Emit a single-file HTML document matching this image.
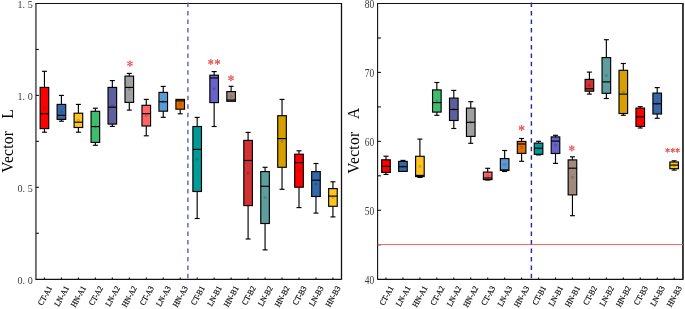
<!DOCTYPE html>
<html><head><meta charset="utf-8"><style>
html,body{margin:0;padding:0;background:#fff;}
body{width:685px;height:309px;overflow:hidden;}
svg{display:block;will-change:transform;}
text{font-family:"Liberation Serif",serif;}
</style></head><body>
<svg width="685" height="309" viewBox="0 0 685 309">
<rect width="685" height="309" fill="#fff"/>
<line x1="35.9" y1="3.0" x2="35.9" y2="279.8" stroke="#6e6e6e" stroke-width="1.9"/>
<line x1="377.6" y1="3.0" x2="377.6" y2="279.8" stroke="#111" stroke-width="1.1"/>
<line x1="35.60" y1="3.5" x2="341.50" y2="3.5" stroke="#111" stroke-width="1"/>
<line x1="341.50" y1="3.0" x2="341.50" y2="279.8" stroke="#111" stroke-width="1.3"/>
<line x1="35.60" y1="279.4" x2="341.50" y2="279.4" stroke="#111" stroke-width="1.15"/>
<line x1="44.45" y1="279" x2="44.45" y2="277.4" stroke="#111" stroke-width="1.1"/>
<line x1="61.42" y1="279" x2="61.42" y2="277.4" stroke="#111" stroke-width="1.1"/>
<line x1="78.39" y1="279" x2="78.39" y2="277.4" stroke="#111" stroke-width="1.1"/>
<line x1="95.36" y1="279" x2="95.36" y2="277.4" stroke="#111" stroke-width="1.1"/>
<line x1="112.33" y1="279" x2="112.33" y2="277.4" stroke="#111" stroke-width="1.1"/>
<line x1="129.30" y1="279" x2="129.30" y2="277.4" stroke="#111" stroke-width="1.1"/>
<line x1="146.27" y1="279" x2="146.27" y2="277.4" stroke="#111" stroke-width="1.1"/>
<line x1="163.24" y1="279" x2="163.24" y2="277.4" stroke="#111" stroke-width="1.1"/>
<line x1="180.21" y1="279" x2="180.21" y2="277.4" stroke="#111" stroke-width="1.1"/>
<line x1="197.18" y1="279" x2="197.18" y2="277.4" stroke="#111" stroke-width="1.1"/>
<line x1="214.15" y1="279" x2="214.15" y2="277.4" stroke="#111" stroke-width="1.1"/>
<line x1="231.12" y1="279" x2="231.12" y2="277.4" stroke="#111" stroke-width="1.1"/>
<line x1="248.09" y1="279" x2="248.09" y2="277.4" stroke="#111" stroke-width="1.1"/>
<line x1="265.06" y1="279" x2="265.06" y2="277.4" stroke="#111" stroke-width="1.1"/>
<line x1="282.03" y1="279" x2="282.03" y2="277.4" stroke="#111" stroke-width="1.1"/>
<line x1="299.00" y1="279" x2="299.00" y2="277.4" stroke="#111" stroke-width="1.1"/>
<line x1="315.97" y1="279" x2="315.97" y2="277.4" stroke="#111" stroke-width="1.1"/>
<line x1="332.94" y1="279" x2="332.94" y2="277.4" stroke="#111" stroke-width="1.1"/>
<line x1="36.00" y1="233.25" x2="38.90" y2="233.25" stroke="#111" stroke-width="1.1"/>
<line x1="36.00" y1="187.30" x2="38.90" y2="187.30" stroke="#111" stroke-width="1.1"/>
<line x1="36.00" y1="141.35" x2="38.90" y2="141.35" stroke="#111" stroke-width="1.1"/>
<line x1="36.00" y1="95.40" x2="38.90" y2="95.40" stroke="#111" stroke-width="1.1"/>
<line x1="36.00" y1="49.45" x2="38.90" y2="49.45" stroke="#111" stroke-width="1.1"/>
<line x1="187.90" y1="2.5" x2="187.90" y2="279.20" stroke="#6464BC" stroke-width="1.45" stroke-dasharray="4.5 3.98"/>
<g stroke="#000" stroke-width="1.15" fill="none">
<line x1="44.45" y1="71.30" x2="44.45" y2="87.40"/>
<line x1="41.95" y1="71.30" x2="46.95" y2="71.30"/>
<line x1="44.45" y1="128.60" x2="44.45" y2="132.20"/>
<line x1="41.95" y1="132.20" x2="46.95" y2="132.20"/>
<rect x="40.15" y="87.40" width="8.60" height="41.20" fill="#FF0000"/>
<line x1="40.15" y1="113.70" x2="48.75" y2="113.70"/>
<circle cx="44.45" cy="108.00" r="1.1" fill="none" stroke="rgba(0,0,0,0.3)" stroke-width="0.6"/>
<line x1="61.42" y1="95.40" x2="61.42" y2="104.40"/>
<line x1="58.92" y1="95.40" x2="63.92" y2="95.40"/>
<line x1="61.42" y1="119.40" x2="61.42" y2="121.20"/>
<line x1="58.92" y1="121.20" x2="63.92" y2="121.20"/>
<rect x="57.12" y="104.40" width="8.60" height="15.00" fill="#3468A8"/>
<line x1="57.12" y1="115.30" x2="65.72" y2="115.30"/>
<circle cx="61.42" cy="111.90" r="1.1" fill="none" stroke="rgba(0,0,0,0.3)" stroke-width="0.6"/>
<line x1="78.39" y1="104.40" x2="78.39" y2="113.20"/>
<line x1="75.89" y1="104.40" x2="80.89" y2="104.40"/>
<line x1="78.39" y1="127.50" x2="78.39" y2="132.20"/>
<line x1="75.89" y1="132.20" x2="80.89" y2="132.20"/>
<rect x="74.09" y="113.20" width="8.60" height="14.30" fill="#FFC41E"/>
<line x1="74.09" y1="122.20" x2="82.69" y2="122.20"/>
<circle cx="78.39" cy="120.35" r="1.1" fill="none" stroke="rgba(0,0,0,0.3)" stroke-width="0.6"/>
<line x1="95.36" y1="108.20" x2="95.36" y2="111.30"/>
<line x1="92.86" y1="108.20" x2="97.86" y2="108.20"/>
<line x1="95.36" y1="142.40" x2="95.36" y2="145.30"/>
<line x1="92.86" y1="145.30" x2="97.86" y2="145.30"/>
<rect x="91.06" y="111.30" width="8.60" height="31.10" fill="#3CBE6E"/>
<line x1="91.06" y1="126.60" x2="99.66" y2="126.60"/>
<circle cx="95.36" cy="126.85" r="1.1" fill="none" stroke="rgba(0,0,0,0.3)" stroke-width="0.6"/>
<line x1="112.33" y1="80.60" x2="112.33" y2="87.40"/>
<line x1="109.83" y1="80.60" x2="114.83" y2="80.60"/>
<line x1="112.33" y1="124.10" x2="112.33" y2="126.40"/>
<line x1="109.83" y1="126.40" x2="114.83" y2="126.40"/>
<rect x="108.03" y="87.40" width="8.60" height="36.70" fill="#5F5F9E"/>
<line x1="108.03" y1="107.20" x2="116.63" y2="107.20"/>
<circle cx="112.33" cy="105.75" r="1.1" fill="none" stroke="rgba(0,0,0,0.3)" stroke-width="0.6"/>
<line x1="129.30" y1="73.40" x2="129.30" y2="76.10"/>
<line x1="126.80" y1="73.40" x2="131.80" y2="73.40"/>
<line x1="129.30" y1="102.40" x2="129.30" y2="110.10"/>
<line x1="126.80" y1="110.10" x2="131.80" y2="110.10"/>
<rect x="125.00" y="76.10" width="8.60" height="26.30" fill="#A0A0A0"/>
<line x1="125.00" y1="87.40" x2="133.60" y2="87.40"/>
<circle cx="129.30" cy="89.25" r="1.1" fill="none" stroke="rgba(0,0,0,0.3)" stroke-width="0.6"/>
<line x1="146.27" y1="99.40" x2="146.27" y2="105.30"/>
<line x1="143.77" y1="99.40" x2="148.77" y2="99.40"/>
<line x1="146.27" y1="126.00" x2="146.27" y2="135.80"/>
<line x1="143.77" y1="135.80" x2="148.77" y2="135.80"/>
<rect x="141.97" y="105.30" width="8.60" height="20.70" fill="#FF6666"/>
<line x1="141.97" y1="113.70" x2="150.57" y2="113.70"/>
<circle cx="146.27" cy="115.65" r="1.1" fill="none" stroke="rgba(0,0,0,0.3)" stroke-width="0.6"/>
<line x1="163.24" y1="86.40" x2="163.24" y2="92.40"/>
<line x1="160.74" y1="86.40" x2="165.74" y2="86.40"/>
<line x1="163.24" y1="111.20" x2="163.24" y2="117.30"/>
<line x1="160.74" y1="117.30" x2="165.74" y2="117.30"/>
<rect x="158.94" y="92.40" width="8.60" height="18.80" fill="#5B9BD5"/>
<line x1="158.94" y1="101.80" x2="167.54" y2="101.80"/>
<circle cx="163.24" cy="101.80" r="1.1" fill="none" stroke="rgba(0,0,0,0.3)" stroke-width="0.6"/>
<line x1="180.21" y1="109.20" x2="180.21" y2="113.80"/>
<line x1="177.71" y1="113.80" x2="182.71" y2="113.80"/>
<rect x="175.91" y="99.40" width="8.60" height="9.80" fill="#DD6E00"/>
<line x1="175.91" y1="100.90" x2="184.51" y2="100.90"/>
<circle cx="180.21" cy="104.30" r="1.1" fill="none" stroke="rgba(0,0,0,0.3)" stroke-width="0.6"/>
<line x1="197.18" y1="117.40" x2="197.18" y2="126.50"/>
<line x1="194.68" y1="117.40" x2="199.68" y2="117.40"/>
<line x1="197.18" y1="191.50" x2="197.18" y2="218.50"/>
<line x1="194.68" y1="218.50" x2="199.68" y2="218.50"/>
<rect x="192.88" y="126.50" width="8.60" height="65.00" fill="#009A98"/>
<line x1="192.88" y1="149.40" x2="201.48" y2="149.40"/>
<circle cx="197.18" cy="159.00" r="1.1" fill="none" stroke="rgba(0,0,0,0.3)" stroke-width="0.6"/>
<line x1="214.15" y1="71.60" x2="214.15" y2="75.20"/>
<line x1="211.65" y1="71.60" x2="216.65" y2="71.60"/>
<line x1="214.15" y1="102.60" x2="214.15" y2="126.50"/>
<line x1="211.65" y1="126.50" x2="216.65" y2="126.50"/>
<rect x="209.85" y="75.20" width="8.60" height="27.40" fill="#6A62C8"/>
<line x1="209.85" y1="78.00" x2="218.45" y2="78.00"/>
<circle cx="214.15" cy="88.90" r="1.1" fill="none" stroke="rgba(0,0,0,0.3)" stroke-width="0.6"/>
<line x1="231.12" y1="86.30" x2="231.12" y2="91.60"/>
<line x1="228.62" y1="86.30" x2="233.62" y2="86.30"/>
<rect x="226.82" y="91.60" width="8.60" height="9.70" fill="#A08A7E"/>
<line x1="226.82" y1="100.00" x2="235.42" y2="100.00"/>
<circle cx="231.12" cy="96.45" r="1.1" fill="none" stroke="rgba(0,0,0,0.3)" stroke-width="0.6"/>
<line x1="248.09" y1="132.40" x2="248.09" y2="140.40"/>
<line x1="245.59" y1="132.40" x2="250.59" y2="132.40"/>
<line x1="248.09" y1="205.60" x2="248.09" y2="239.00"/>
<line x1="245.59" y1="239.00" x2="250.59" y2="239.00"/>
<rect x="243.79" y="140.40" width="8.60" height="65.20" fill="#D23232"/>
<line x1="243.79" y1="160.50" x2="252.39" y2="160.50"/>
<circle cx="248.09" cy="173.00" r="1.1" fill="none" stroke="rgba(0,0,0,0.3)" stroke-width="0.6"/>
<line x1="265.06" y1="167.30" x2="265.06" y2="171.60"/>
<line x1="262.56" y1="167.30" x2="267.56" y2="167.30"/>
<line x1="265.06" y1="223.50" x2="265.06" y2="249.90"/>
<line x1="262.56" y1="249.90" x2="267.56" y2="249.90"/>
<rect x="260.76" y="171.60" width="8.60" height="51.90" fill="#5F9E9E"/>
<line x1="260.76" y1="186.30" x2="269.36" y2="186.30"/>
<circle cx="265.06" cy="197.55" r="1.1" fill="none" stroke="rgba(0,0,0,0.3)" stroke-width="0.6"/>
<line x1="282.03" y1="99.40" x2="282.03" y2="115.70"/>
<line x1="279.53" y1="99.40" x2="284.53" y2="99.40"/>
<line x1="282.03" y1="167.30" x2="282.03" y2="189.30"/>
<line x1="279.53" y1="189.30" x2="284.53" y2="189.30"/>
<rect x="277.73" y="115.70" width="8.60" height="51.60" fill="#D6A000"/>
<line x1="277.73" y1="138.60" x2="286.33" y2="138.60"/>
<circle cx="282.03" cy="141.50" r="1.1" fill="none" stroke="rgba(0,0,0,0.3)" stroke-width="0.6"/>
<line x1="299.00" y1="150.80" x2="299.00" y2="154.20"/>
<line x1="296.50" y1="150.80" x2="301.50" y2="150.80"/>
<line x1="299.00" y1="187.20" x2="299.00" y2="207.60"/>
<line x1="296.50" y1="207.60" x2="301.50" y2="207.60"/>
<rect x="294.70" y="154.20" width="8.60" height="33.00" fill="#FF0000"/>
<line x1="294.70" y1="162.60" x2="303.30" y2="162.60"/>
<circle cx="299.00" cy="170.70" r="1.1" fill="none" stroke="rgba(0,0,0,0.3)" stroke-width="0.6"/>
<line x1="315.97" y1="163.50" x2="315.97" y2="171.60"/>
<line x1="313.47" y1="163.50" x2="318.47" y2="163.50"/>
<line x1="315.97" y1="196.50" x2="315.97" y2="213.10"/>
<line x1="313.47" y1="213.10" x2="318.47" y2="213.10"/>
<rect x="311.67" y="171.60" width="8.60" height="24.90" fill="#3468A8"/>
<line x1="311.67" y1="180.20" x2="320.27" y2="180.20"/>
<circle cx="315.97" cy="184.05" r="1.1" fill="none" stroke="rgba(0,0,0,0.3)" stroke-width="0.6"/>
<line x1="332.94" y1="181.80" x2="332.94" y2="188.60"/>
<line x1="330.44" y1="181.80" x2="335.44" y2="181.80"/>
<line x1="332.94" y1="206.30" x2="332.94" y2="216.90"/>
<line x1="330.44" y1="216.90" x2="335.44" y2="216.90"/>
<rect x="328.64" y="188.60" width="8.60" height="17.70" fill="#FFC41E"/>
<line x1="328.64" y1="196.10" x2="337.24" y2="196.10"/>
<circle cx="332.94" cy="197.45" r="1.1" fill="none" stroke="rgba(0,0,0,0.3)" stroke-width="0.6"/>
</g>
<g stroke="#E85858" stroke-width="0.95" stroke-linecap="round">
<line x1="130.00" y1="60.85" x2="130.00" y2="66.35"/>
<line x1="127.62" y1="62.23" x2="132.38" y2="64.97"/>
<line x1="132.38" y1="62.23" x2="127.62" y2="64.97"/>
<circle cx="130.00" cy="65.75" r="0.77" fill="#E85858" stroke="none"/>
<circle cx="131.86" cy="64.67" r="0.77" fill="#E85858" stroke="none"/>
<circle cx="128.14" cy="64.67" r="0.77" fill="#E85858" stroke="none"/>
<circle cx="130.00" cy="61.45" r="0.77" fill="#E85858" stroke="none"/>
<circle cx="128.14" cy="62.53" r="0.77" fill="#E85858" stroke="none"/>
<circle cx="131.86" cy="62.53" r="0.77" fill="#E85858" stroke="none"/>
<line x1="210.80" y1="59.50" x2="210.80" y2="64.50"/>
<line x1="208.63" y1="60.75" x2="212.97" y2="63.25"/>
<line x1="212.97" y1="60.75" x2="208.63" y2="63.25"/>
<circle cx="210.80" cy="63.95" r="0.70" fill="#E85858" stroke="none"/>
<circle cx="212.49" cy="62.98" r="0.70" fill="#E85858" stroke="none"/>
<circle cx="209.11" cy="62.98" r="0.70" fill="#E85858" stroke="none"/>
<circle cx="210.80" cy="60.05" r="0.70" fill="#E85858" stroke="none"/>
<circle cx="209.11" cy="61.02" r="0.70" fill="#E85858" stroke="none"/>
<circle cx="212.49" cy="61.02" r="0.70" fill="#E85858" stroke="none"/>
<line x1="217.50" y1="59.50" x2="217.50" y2="64.50"/>
<line x1="215.33" y1="60.75" x2="219.67" y2="63.25"/>
<line x1="219.67" y1="60.75" x2="215.33" y2="63.25"/>
<circle cx="217.50" cy="63.95" r="0.70" fill="#E85858" stroke="none"/>
<circle cx="219.19" cy="62.98" r="0.70" fill="#E85858" stroke="none"/>
<circle cx="215.81" cy="62.98" r="0.70" fill="#E85858" stroke="none"/>
<circle cx="217.50" cy="60.05" r="0.70" fill="#E85858" stroke="none"/>
<circle cx="215.81" cy="61.02" r="0.70" fill="#E85858" stroke="none"/>
<circle cx="219.19" cy="61.02" r="0.70" fill="#E85858" stroke="none"/>
<line x1="231.00" y1="75.45" x2="231.00" y2="80.95"/>
<line x1="228.62" y1="76.83" x2="233.38" y2="79.58"/>
<line x1="233.38" y1="76.83" x2="228.62" y2="79.58"/>
<circle cx="231.00" cy="80.34" r="0.77" fill="#E85858" stroke="none"/>
<circle cx="232.86" cy="79.27" r="0.77" fill="#E85858" stroke="none"/>
<circle cx="229.14" cy="79.27" r="0.77" fill="#E85858" stroke="none"/>
<circle cx="231.00" cy="76.06" r="0.77" fill="#E85858" stroke="none"/>
<circle cx="229.14" cy="77.13" r="0.77" fill="#E85858" stroke="none"/>
<circle cx="232.86" cy="77.13" r="0.77" fill="#E85858" stroke="none"/>
</g>
<line x1="377.60" y1="3.5" x2="682.95" y2="3.5" stroke="#111" stroke-width="1"/>
<line x1="682.95" y1="3.0" x2="682.95" y2="279.8" stroke="#2a2a2a" stroke-width="1.8"/>
<line x1="377.60" y1="279.4" x2="682.95" y2="279.4" stroke="#111" stroke-width="1.15"/>
<line x1="386.00" y1="279" x2="386.00" y2="277.4" stroke="#111" stroke-width="1.1"/>
<line x1="402.95" y1="279" x2="402.95" y2="277.4" stroke="#111" stroke-width="1.1"/>
<line x1="419.90" y1="279" x2="419.90" y2="277.4" stroke="#111" stroke-width="1.1"/>
<line x1="436.85" y1="279" x2="436.85" y2="277.4" stroke="#111" stroke-width="1.1"/>
<line x1="453.80" y1="279" x2="453.80" y2="277.4" stroke="#111" stroke-width="1.1"/>
<line x1="470.75" y1="279" x2="470.75" y2="277.4" stroke="#111" stroke-width="1.1"/>
<line x1="487.70" y1="279" x2="487.70" y2="277.4" stroke="#111" stroke-width="1.1"/>
<line x1="504.65" y1="279" x2="504.65" y2="277.4" stroke="#111" stroke-width="1.1"/>
<line x1="521.60" y1="279" x2="521.60" y2="277.4" stroke="#111" stroke-width="1.1"/>
<line x1="538.55" y1="279" x2="538.55" y2="277.4" stroke="#111" stroke-width="1.1"/>
<line x1="555.50" y1="279" x2="555.50" y2="277.4" stroke="#111" stroke-width="1.1"/>
<line x1="572.45" y1="279" x2="572.45" y2="277.4" stroke="#111" stroke-width="1.1"/>
<line x1="589.40" y1="279" x2="589.40" y2="277.4" stroke="#111" stroke-width="1.1"/>
<line x1="606.35" y1="279" x2="606.35" y2="277.4" stroke="#111" stroke-width="1.1"/>
<line x1="623.30" y1="279" x2="623.30" y2="277.4" stroke="#111" stroke-width="1.1"/>
<line x1="640.25" y1="279" x2="640.25" y2="277.4" stroke="#111" stroke-width="1.1"/>
<line x1="657.20" y1="279" x2="657.20" y2="277.4" stroke="#111" stroke-width="1.1"/>
<line x1="674.15" y1="279" x2="674.15" y2="277.4" stroke="#111" stroke-width="1.1"/>
<line x1="378.00" y1="244.74" x2="380.90" y2="244.74" stroke="#111" stroke-width="1.1"/>
<line x1="378.00" y1="210.27" x2="380.90" y2="210.27" stroke="#111" stroke-width="1.1"/>
<line x1="378.00" y1="175.81" x2="380.90" y2="175.81" stroke="#111" stroke-width="1.1"/>
<line x1="378.00" y1="141.35" x2="380.90" y2="141.35" stroke="#111" stroke-width="1.1"/>
<line x1="378.00" y1="106.89" x2="380.90" y2="106.89" stroke="#111" stroke-width="1.1"/>
<line x1="378.00" y1="72.42" x2="380.90" y2="72.42" stroke="#111" stroke-width="1.1"/>
<line x1="378.00" y1="37.96" x2="380.90" y2="37.96" stroke="#111" stroke-width="1.1"/>
<line x1="377.60" y1="244.60" x2="682.95" y2="244.60" stroke="#F06060" stroke-width="1"/>
<line x1="531.40" y1="2.5" x2="531.40" y2="279.20" stroke="#2A2AA2" stroke-width="1.45" stroke-dasharray="4.5 3.98"/>
<g stroke="#000" stroke-width="1.15" fill="none">
<line x1="386.00" y1="156.20" x2="386.00" y2="159.80"/>
<line x1="383.50" y1="156.20" x2="388.50" y2="156.20"/>
<line x1="386.00" y1="172.40" x2="386.00" y2="174.40"/>
<line x1="383.50" y1="174.40" x2="388.50" y2="174.40"/>
<rect x="381.70" y="159.80" width="8.60" height="12.60" fill="#FF0000"/>
<line x1="381.70" y1="166.40" x2="390.30" y2="166.40"/>
<circle cx="386.00" cy="166.10" r="1.1" fill="none" stroke="rgba(0,0,0,0.3)" stroke-width="0.6"/>
<line x1="402.95" y1="160.40" x2="402.95" y2="161.40"/>
<line x1="400.45" y1="160.40" x2="405.45" y2="160.40"/>
<rect x="398.65" y="161.40" width="8.60" height="10.00" fill="#3468A8"/>
<line x1="398.65" y1="166.70" x2="407.25" y2="166.70"/>
<circle cx="402.95" cy="166.40" r="1.1" fill="none" stroke="rgba(0,0,0,0.3)" stroke-width="0.6"/>
<line x1="419.90" y1="139.10" x2="419.90" y2="156.30"/>
<line x1="417.40" y1="139.10" x2="422.40" y2="139.10"/>
<line x1="419.90" y1="176.60" x2="419.90" y2="177.40"/>
<line x1="417.40" y1="177.40" x2="422.40" y2="177.40"/>
<rect x="415.60" y="156.30" width="8.60" height="20.30" fill="#FFC41E"/>
<line x1="415.60" y1="175.40" x2="424.20" y2="175.40"/>
<circle cx="419.90" cy="166.45" r="1.1" fill="none" stroke="rgba(0,0,0,0.3)" stroke-width="0.6"/>
<line x1="436.85" y1="82.50" x2="436.85" y2="89.90"/>
<line x1="434.35" y1="82.50" x2="439.35" y2="82.50"/>
<line x1="436.85" y1="112.10" x2="436.85" y2="115.30"/>
<line x1="434.35" y1="115.30" x2="439.35" y2="115.30"/>
<rect x="432.55" y="89.90" width="8.60" height="22.20" fill="#3CBE6E"/>
<line x1="432.55" y1="102.60" x2="441.15" y2="102.60"/>
<circle cx="436.85" cy="101.00" r="1.1" fill="none" stroke="rgba(0,0,0,0.3)" stroke-width="0.6"/>
<line x1="453.80" y1="90.40" x2="453.80" y2="98.10"/>
<line x1="451.30" y1="90.40" x2="456.30" y2="90.40"/>
<line x1="453.80" y1="120.50" x2="453.80" y2="128.50"/>
<line x1="451.30" y1="128.50" x2="456.30" y2="128.50"/>
<rect x="449.50" y="98.10" width="8.60" height="22.40" fill="#5F5F9E"/>
<line x1="449.50" y1="109.50" x2="458.10" y2="109.50"/>
<circle cx="453.80" cy="109.30" r="1.1" fill="none" stroke="rgba(0,0,0,0.3)" stroke-width="0.6"/>
<line x1="470.75" y1="101.70" x2="470.75" y2="108.10"/>
<line x1="468.25" y1="101.70" x2="473.25" y2="101.70"/>
<line x1="470.75" y1="136.40" x2="470.75" y2="143.30"/>
<line x1="468.25" y1="143.30" x2="473.25" y2="143.30"/>
<rect x="466.45" y="108.10" width="8.60" height="28.30" fill="#A0A0A0"/>
<line x1="466.45" y1="122.30" x2="475.05" y2="122.30"/>
<circle cx="470.75" cy="122.25" r="1.1" fill="none" stroke="rgba(0,0,0,0.3)" stroke-width="0.6"/>
<line x1="487.70" y1="168.30" x2="487.70" y2="172.10"/>
<line x1="485.20" y1="168.30" x2="490.20" y2="168.30"/>
<line x1="487.70" y1="179.60" x2="487.70" y2="180.00"/>
<line x1="485.20" y1="180.00" x2="490.20" y2="180.00"/>
<rect x="483.40" y="172.10" width="8.60" height="7.50" fill="#FF6666"/>
<line x1="483.40" y1="178.00" x2="492.00" y2="178.00"/>
<circle cx="487.70" cy="175.85" r="1.1" fill="none" stroke="rgba(0,0,0,0.3)" stroke-width="0.6"/>
<line x1="504.65" y1="150.50" x2="504.65" y2="158.60"/>
<line x1="502.15" y1="150.50" x2="507.15" y2="150.50"/>
<line x1="504.65" y1="170.40" x2="504.65" y2="171.50"/>
<line x1="502.15" y1="171.50" x2="507.15" y2="171.50"/>
<rect x="500.35" y="158.60" width="8.60" height="11.80" fill="#5B9BD5"/>
<line x1="500.35" y1="170.00" x2="508.95" y2="170.00"/>
<circle cx="504.65" cy="164.50" r="1.1" fill="none" stroke="rgba(0,0,0,0.3)" stroke-width="0.6"/>
<line x1="521.60" y1="138.50" x2="521.60" y2="141.40"/>
<line x1="519.10" y1="138.50" x2="524.10" y2="138.50"/>
<line x1="521.60" y1="153.40" x2="521.60" y2="161.30"/>
<line x1="519.10" y1="161.30" x2="524.10" y2="161.30"/>
<rect x="517.30" y="141.40" width="8.60" height="12.00" fill="#DD6E00"/>
<line x1="517.30" y1="144.00" x2="525.90" y2="144.00"/>
<circle cx="521.60" cy="147.40" r="1.1" fill="none" stroke="rgba(0,0,0,0.3)" stroke-width="0.6"/>
<line x1="538.55" y1="141.30" x2="538.55" y2="143.10"/>
<line x1="536.05" y1="141.30" x2="541.05" y2="141.30"/>
<line x1="538.55" y1="154.30" x2="538.55" y2="154.90"/>
<line x1="536.05" y1="154.90" x2="541.05" y2="154.90"/>
<rect x="534.25" y="143.10" width="8.60" height="11.20" fill="#009A98"/>
<line x1="534.25" y1="148.20" x2="542.85" y2="148.20"/>
<circle cx="538.55" cy="148.70" r="1.1" fill="none" stroke="rgba(0,0,0,0.3)" stroke-width="0.6"/>
<line x1="555.50" y1="135.30" x2="555.50" y2="136.90"/>
<line x1="553.00" y1="135.30" x2="558.00" y2="135.30"/>
<line x1="555.50" y1="153.50" x2="555.50" y2="163.40"/>
<line x1="553.00" y1="163.40" x2="558.00" y2="163.40"/>
<rect x="551.20" y="136.90" width="8.60" height="16.60" fill="#6A62C8"/>
<line x1="551.20" y1="141.10" x2="559.80" y2="141.10"/>
<circle cx="555.50" cy="145.20" r="1.1" fill="none" stroke="rgba(0,0,0,0.3)" stroke-width="0.6"/>
<line x1="572.45" y1="156.80" x2="572.45" y2="159.90"/>
<line x1="569.95" y1="156.80" x2="574.95" y2="156.80"/>
<line x1="572.45" y1="194.90" x2="572.45" y2="215.70"/>
<line x1="569.95" y1="215.70" x2="574.95" y2="215.70"/>
<rect x="568.15" y="159.90" width="8.60" height="35.00" fill="#A08A7E"/>
<line x1="568.15" y1="168.20" x2="576.75" y2="168.20"/>
<circle cx="572.45" cy="177.40" r="1.1" fill="none" stroke="rgba(0,0,0,0.3)" stroke-width="0.6"/>
<line x1="589.40" y1="72.10" x2="589.40" y2="79.40"/>
<line x1="586.90" y1="72.10" x2="591.90" y2="72.10"/>
<line x1="589.40" y1="91.20" x2="589.40" y2="94.10"/>
<line x1="586.90" y1="94.10" x2="591.90" y2="94.10"/>
<rect x="585.10" y="79.40" width="8.60" height="11.80" fill="#D23232"/>
<line x1="585.10" y1="88.70" x2="593.70" y2="88.70"/>
<circle cx="589.40" cy="85.30" r="1.1" fill="none" stroke="rgba(0,0,0,0.3)" stroke-width="0.6"/>
<line x1="606.35" y1="39.70" x2="606.35" y2="57.60"/>
<line x1="603.85" y1="39.70" x2="608.85" y2="39.70"/>
<line x1="606.35" y1="93.30" x2="606.35" y2="98.50"/>
<line x1="603.85" y1="98.50" x2="608.85" y2="98.50"/>
<rect x="602.05" y="57.60" width="8.60" height="35.70" fill="#5F9E9E"/>
<line x1="602.05" y1="81.90" x2="610.65" y2="81.90"/>
<circle cx="606.35" cy="75.45" r="1.1" fill="none" stroke="rgba(0,0,0,0.3)" stroke-width="0.6"/>
<line x1="623.30" y1="63.50" x2="623.30" y2="70.30"/>
<line x1="620.80" y1="63.50" x2="625.80" y2="63.50"/>
<line x1="623.30" y1="113.50" x2="623.30" y2="115.30"/>
<line x1="620.80" y1="115.30" x2="625.80" y2="115.30"/>
<rect x="619.00" y="70.30" width="8.60" height="43.20" fill="#D6A000"/>
<line x1="619.00" y1="94.10" x2="627.60" y2="94.10"/>
<circle cx="623.30" cy="91.90" r="1.1" fill="none" stroke="rgba(0,0,0,0.3)" stroke-width="0.6"/>
<line x1="640.25" y1="106.70" x2="640.25" y2="108.10"/>
<line x1="637.75" y1="106.70" x2="642.75" y2="106.70"/>
<line x1="640.25" y1="126.40" x2="640.25" y2="128.00"/>
<line x1="637.75" y1="128.00" x2="642.75" y2="128.00"/>
<rect x="635.95" y="108.10" width="8.60" height="18.30" fill="#FF0000"/>
<line x1="635.95" y1="116.70" x2="644.55" y2="116.70"/>
<circle cx="640.25" cy="117.25" r="1.1" fill="none" stroke="rgba(0,0,0,0.3)" stroke-width="0.6"/>
<line x1="657.20" y1="87.60" x2="657.20" y2="93.10"/>
<line x1="654.70" y1="87.60" x2="659.70" y2="87.60"/>
<line x1="657.20" y1="114.00" x2="657.20" y2="118.30"/>
<line x1="654.70" y1="118.30" x2="659.70" y2="118.30"/>
<rect x="652.90" y="93.10" width="8.60" height="20.90" fill="#3468A8"/>
<line x1="652.90" y1="103.80" x2="661.50" y2="103.80"/>
<circle cx="657.20" cy="103.55" r="1.1" fill="none" stroke="rgba(0,0,0,0.3)" stroke-width="0.6"/>
<line x1="674.15" y1="160.80" x2="674.15" y2="162.00"/>
<line x1="671.65" y1="160.80" x2="676.65" y2="160.80"/>
<line x1="674.15" y1="168.70" x2="674.15" y2="170.10"/>
<line x1="671.65" y1="170.10" x2="676.65" y2="170.10"/>
<rect x="669.85" y="162.00" width="8.60" height="6.70" fill="#FFC41E"/>
<line x1="669.85" y1="165.10" x2="678.45" y2="165.10"/>
<circle cx="674.15" cy="165.35" r="1.1" fill="none" stroke="rgba(0,0,0,0.3)" stroke-width="0.6"/>
</g>
<g stroke="#E85858" stroke-width="0.95" stroke-linecap="round">
<line x1="521.60" y1="125.25" x2="521.60" y2="130.75"/>
<line x1="519.22" y1="126.62" x2="523.98" y2="129.38"/>
<line x1="523.98" y1="126.62" x2="519.22" y2="129.38"/>
<circle cx="521.60" cy="130.15" r="0.77" fill="#E85858" stroke="none"/>
<circle cx="523.46" cy="129.07" r="0.77" fill="#E85858" stroke="none"/>
<circle cx="519.74" cy="129.07" r="0.77" fill="#E85858" stroke="none"/>
<circle cx="521.60" cy="125.86" r="0.77" fill="#E85858" stroke="none"/>
<circle cx="519.74" cy="126.93" r="0.77" fill="#E85858" stroke="none"/>
<circle cx="523.46" cy="126.93" r="0.77" fill="#E85858" stroke="none"/>
<line x1="571.80" y1="145.55" x2="571.80" y2="151.05"/>
<line x1="569.42" y1="146.93" x2="574.18" y2="149.68"/>
<line x1="574.18" y1="146.93" x2="569.42" y2="149.68"/>
<circle cx="571.80" cy="150.45" r="0.77" fill="#E85858" stroke="none"/>
<circle cx="573.66" cy="149.37" r="0.77" fill="#E85858" stroke="none"/>
<circle cx="569.94" cy="149.37" r="0.77" fill="#E85858" stroke="none"/>
<circle cx="571.80" cy="146.16" r="0.77" fill="#E85858" stroke="none"/>
<circle cx="569.94" cy="147.23" r="0.77" fill="#E85858" stroke="none"/>
<circle cx="573.66" cy="147.23" r="0.77" fill="#E85858" stroke="none"/>
<line x1="667.60" y1="148.30" x2="667.60" y2="152.30"/>
<line x1="665.87" y1="149.30" x2="669.33" y2="151.30"/>
<line x1="669.33" y1="149.30" x2="665.87" y2="151.30"/>
<circle cx="667.60" cy="151.86" r="0.56" fill="#E85858" stroke="none"/>
<circle cx="668.95" cy="151.08" r="0.56" fill="#E85858" stroke="none"/>
<circle cx="666.25" cy="151.08" r="0.56" fill="#E85858" stroke="none"/>
<circle cx="667.60" cy="148.74" r="0.56" fill="#E85858" stroke="none"/>
<circle cx="666.25" cy="149.52" r="0.56" fill="#E85858" stroke="none"/>
<circle cx="668.95" cy="149.52" r="0.56" fill="#E85858" stroke="none"/>
<line x1="672.70" y1="148.30" x2="672.70" y2="152.30"/>
<line x1="670.97" y1="149.30" x2="674.43" y2="151.30"/>
<line x1="674.43" y1="149.30" x2="670.97" y2="151.30"/>
<circle cx="672.70" cy="151.86" r="0.56" fill="#E85858" stroke="none"/>
<circle cx="674.05" cy="151.08" r="0.56" fill="#E85858" stroke="none"/>
<circle cx="671.35" cy="151.08" r="0.56" fill="#E85858" stroke="none"/>
<circle cx="672.70" cy="148.74" r="0.56" fill="#E85858" stroke="none"/>
<circle cx="671.35" cy="149.52" r="0.56" fill="#E85858" stroke="none"/>
<circle cx="674.05" cy="149.52" r="0.56" fill="#E85858" stroke="none"/>
<line x1="677.60" y1="148.30" x2="677.60" y2="152.30"/>
<line x1="675.87" y1="149.30" x2="679.33" y2="151.30"/>
<line x1="679.33" y1="149.30" x2="675.87" y2="151.30"/>
<circle cx="677.60" cy="151.86" r="0.56" fill="#E85858" stroke="none"/>
<circle cx="678.95" cy="151.08" r="0.56" fill="#E85858" stroke="none"/>
<circle cx="676.25" cy="151.08" r="0.56" fill="#E85858" stroke="none"/>
<circle cx="677.60" cy="148.74" r="0.56" fill="#E85858" stroke="none"/>
<circle cx="676.25" cy="149.52" r="0.56" fill="#E85858" stroke="none"/>
<circle cx="678.95" cy="149.52" r="0.56" fill="#E85858" stroke="none"/>
</g>
<g font-size="10.5" fill="#3a3a3a" text-anchor="end">
<text font-size="11" transform="translate(32.7,8.00) scale(0.92,1)" xml:space="preserve">1. 5</text>
<text font-size="11" transform="translate(32.7,99.90) scale(0.92,1)" xml:space="preserve">1. 0</text>
<text font-size="11" transform="translate(32.7,191.80) scale(0.92,1)" xml:space="preserve">0. 5</text>
<text font-size="11" transform="translate(32.7,283.70) scale(0.92,1)" xml:space="preserve">0. 0</text>
<text font-size="12" transform="translate(374.3,283.80) scale(0.79,1)">40</text>
<text font-size="12" transform="translate(374.3,214.87) scale(0.79,1)">50</text>
<text font-size="12" transform="translate(374.3,145.95) scale(0.79,1)">60</text>
<text font-size="12" transform="translate(374.3,77.02) scale(0.79,1)">70</text>
<text font-size="12" transform="translate(374.3,8.10) scale(0.79,1)">80</text>
</g>
<text font-size="16.3" fill="#000" letter-spacing="0.3" transform="translate(12.9,172.8) rotate(-90) scale(0.95,1)">Vector</text>
<text font-size="16.3" fill="#000" letter-spacing="0.3" transform="translate(13.1,118.8) rotate(-90) scale(0.95,1)">L</text>
<text font-size="16.3" fill="#000" letter-spacing="0.3" transform="translate(359.0,173.7) rotate(-90) scale(0.95,1)">Vector</text>
<text font-size="16.3" fill="#000" letter-spacing="0.3" transform="translate(359.0,118.9) rotate(-90) scale(0.95,1)">A</text>
<g font-size="8.2" fill="#000" stroke="#000" stroke-width="0.18" text-anchor="end">
<text transform="translate(52.35,288.00) rotate(-61.0) scale(0.92,1)">CT-A1</text>
<text transform="translate(69.32,288.00) rotate(-61.0) scale(0.92,1)">LN-A1</text>
<text transform="translate(86.29,288.00) rotate(-61.0) scale(0.92,1)">HN-A1</text>
<text transform="translate(103.26,288.00) rotate(-61.0) scale(0.92,1)">CT-A2</text>
<text transform="translate(120.23,288.00) rotate(-61.0) scale(0.92,1)">LN-A2</text>
<text transform="translate(137.20,288.00) rotate(-61.0) scale(0.92,1)">HN-A2</text>
<text transform="translate(154.17,288.00) rotate(-61.0) scale(0.92,1)">CT-A3</text>
<text transform="translate(171.14,288.00) rotate(-61.0) scale(0.92,1)">LN-A3</text>
<text transform="translate(188.11,288.00) rotate(-61.0) scale(0.92,1)">HN-A3</text>
<text transform="translate(205.08,288.00) rotate(-61.0) scale(0.92,1)">CT-B1</text>
<text transform="translate(222.05,288.00) rotate(-61.0) scale(0.92,1)">LN-B1</text>
<text transform="translate(239.02,288.00) rotate(-61.0) scale(0.92,1)">HN-B1</text>
<text transform="translate(255.99,288.00) rotate(-61.0) scale(0.92,1)">CT-B2</text>
<text transform="translate(272.96,288.00) rotate(-61.0) scale(0.92,1)">LN-B2</text>
<text transform="translate(289.93,288.00) rotate(-61.0) scale(0.92,1)">HN-B2</text>
<text transform="translate(306.90,288.00) rotate(-61.0) scale(0.92,1)">CT-B3</text>
<text transform="translate(323.87,288.00) rotate(-61.0) scale(0.92,1)">LN-B3</text>
<text transform="translate(340.84,288.00) rotate(-61.0) scale(0.92,1)">HN-B3</text>
<text transform="translate(393.90,288.00) rotate(-61.0) scale(0.92,1)">CT-A1</text>
<text transform="translate(410.85,288.00) rotate(-61.0) scale(0.92,1)">LN-A1</text>
<text transform="translate(427.80,288.00) rotate(-61.0) scale(0.92,1)">HN-A1</text>
<text transform="translate(444.75,288.00) rotate(-61.0) scale(0.92,1)">CT-A2</text>
<text transform="translate(461.70,288.00) rotate(-61.0) scale(0.92,1)">LN-A2</text>
<text transform="translate(478.65,288.00) rotate(-61.0) scale(0.92,1)">HN-A2</text>
<text transform="translate(495.60,288.00) rotate(-61.0) scale(0.92,1)">CT-A3</text>
<text transform="translate(512.55,288.00) rotate(-61.0) scale(0.92,1)">LN-A3</text>
<text transform="translate(529.50,288.00) rotate(-61.0) scale(0.92,1)">HN-A3</text>
<text transform="translate(546.45,288.00) rotate(-61.0) scale(0.92,1)">CT-B1</text>
<text transform="translate(563.40,288.00) rotate(-61.0) scale(0.92,1)">LN-B1</text>
<text transform="translate(580.35,288.00) rotate(-61.0) scale(0.92,1)">HN-B1</text>
<text transform="translate(597.30,288.00) rotate(-61.0) scale(0.92,1)">CT-B2</text>
<text transform="translate(614.25,288.00) rotate(-61.0) scale(0.92,1)">LN-B2</text>
<text transform="translate(631.20,288.00) rotate(-61.0) scale(0.92,1)">HN-B2</text>
<text transform="translate(648.15,288.00) rotate(-61.0) scale(0.92,1)">CT-B3</text>
<text transform="translate(665.10,288.00) rotate(-61.0) scale(0.92,1)">LN-B3</text>
<text transform="translate(682.05,288.00) rotate(-61.0) scale(0.92,1)">HN-B3</text>
</g>
</svg></body></html>
